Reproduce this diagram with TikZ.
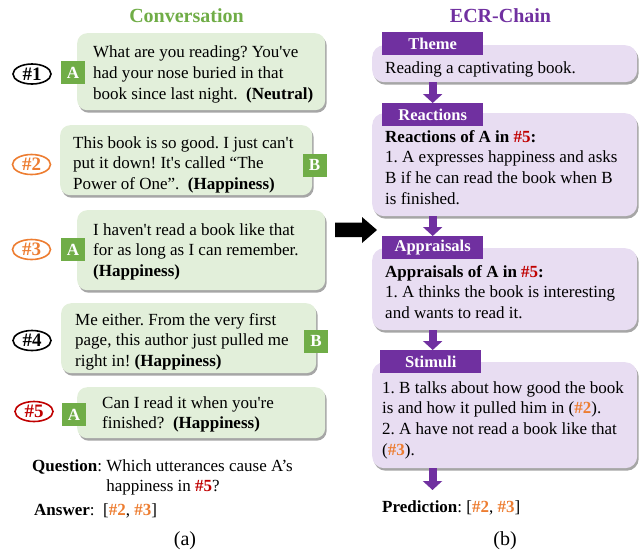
\documentclass[tikz,border=0pt]{standalone}
\usepackage{fontspec}
\setmainfont{Liberation Serif}
\usetikzlibrary{shapes.geometric,shadows,arrows.meta}
\definecolor{convgreen}{HTML}{70AD47}
\definecolor{bubblegreen}{HTML}{E2EFDA}
\definecolor{ecrpurple}{HTML}{7030A0}
\definecolor{boxpurple}{HTML}{E8DDF2}
\definecolor{hashorange}{HTML}{ED7D31}
\definecolor{hashred}{HTML}{C00000}
\newcommand{\ohash}[1]{\textcolor{hashorange}{\textbf{\##1}}}
\newcommand{\rhash}[1]{\textcolor{hashred}{\textbf{\##1}}}
\newcommand{\apos}{\textquotesingle}
\frenchspacing
\begin{document}
\begin{tikzpicture}[x=1pt,y=-1pt,
  every node/.style={inner sep=0pt},
  body/.style={font=\fontsize{17}{20.7}\selectfont},
  say/.style={body,anchor=north west,align=left},
  bubble/.style={anchor=north west,fill=bubblegreen,rounded corners=10pt,
    drop shadow={shadow xshift=1.5pt,shadow yshift=-2.5pt,opacity=.35,fill=black}},
  ecrbox/.style={anchor=north west,fill=boxpurple,rounded corners=12pt,minimum width=265pt,
    drop shadow={shadow xshift=1.5pt,shadow yshift=-2.5pt,opacity=.35,fill=black}},
  speaker/.style={fill=convgreen,text=white,font=\fontsize{17}{17}\selectfont\bfseries,
    minimum width=24pt,minimum height=23pt},
  turn/.style={ellipse,draw=#1,line width=1.6pt,text=#1,font=\fontsize{19}{19}\selectfont\bfseries,
    minimum width=38pt,minimum height=20pt},
  tab/.style={anchor=north west,fill=ecrpurple,text=white,font=\fontsize{16.5}{16.5}\selectfont\bfseries,
    minimum width=101pt,minimum height=22.5pt},
  flow/.style={ecrpurple,line width=8pt,-{Triangle[width=19pt,length=9pt]}},
  title/.style={anchor=base,font=\fontsize{20}{20}\selectfont\bfseries},
  caption/.style={anchor=base,font=\fontsize{20}{20}\selectfont}]
\useasboundingbox (0,0) rectangle (644,552);
% (a) conversation
\node[title,text=convgreen] (convtitle) at (186.5,22) {Conversation};
\node[bubble,minimum width=248pt,minimum height=77pt] (utt1) at (77,33) {};
\node[bubble,minimum width=252pt,minimum height=70pt] (utt2) at (60,125) {};
\node[bubble,minimum width=248pt,minimum height=80pt] (utt3) at (77,210) {};
\node[bubble,minimum width=255pt,minimum height=70pt] (utt4) at (61,303) {};
\node[bubble,minimum width=248pt,minimum height=51pt] (utt5) at (77,387) {};
\node[say] (txt1) at (93,43.2) {\strut What are you reading? You\apos ve\\had your nose buried in that\\book since last night.\ \ \textbf{(Neutral)}};
\node[say] (txt2) at (73,133.5) {\strut This book is so good. I just can\apos t\\put it down! It\apos s called ``The\\Power of One''.\ \ \textbf{(Happiness)}};
\node[say] (txt3) at (93,220.5) {\strut I haven\apos t read a book like that\\for as long as I can remember.\\\textbf{(Happiness)}};
\node[say] (txt4) at (75,310.5) {\strut Me either. From the very first\\page, this author just pulled me\\right in! \textbf{(Happiness)}};
\node[say] (txt5) at (102,393.5) {\strut Can I read it when you\apos re\\finished?\ \ \textbf{(Happiness)}};
\node[speaker] (spk1) at (73,72.5) {A};
\node[speaker] (spk2) at (314.5,165) {B};
\node[speaker] (spk3) at (73,249.5) {A};
\node[speaker] (spk4) at (316,341) {B};
\node[speaker] (spk5) at (74,414.5) {A};
\node[turn=black] (hash1) at (32,74) {\#1};
\node[turn=hashorange] (hash2) at (31.5,164.5) {\#2};
\node[turn=hashorange] (hash3) at (31.5,249.5) {\#3};
\node[turn=black] (hash4) at (32,340.5) {\#4};
\node[turn=hashred] (hash5) at (34,411.5) {\#5};
\node[say] (question) at (32,456.5) {\begin{tabular}{@{}l@{ }l@{}}
  \textbf{Question}: & Which utterances cause A’s\\
  & happiness in \rhash{5}?\end{tabular}};
\node[say] (answer) at (34,500.5) {\strut\textbf{Answer}:\ \ [\ohash{2}, \ohash{3}]};
\node[caption] (capa) at (185,545) {(a)};
% big arrow between the panels
\fill (335,222.5) -- (362,222.5) -- (362,217) -- (377,230) -- (362,243) -- (362,237) -- (335,237) -- cycle;
% (b) ECR-Chain
\node[title,text=ecrpurple] (ecrtitle) at (500.5,22) {ECR-Chain};
\node[ecrbox,minimum height=37pt] (themebox) at (372,45) {};
\node[ecrbox,minimum height=103pt] (reactbox) at (372,113) {};
\node[ecrbox,minimum height=82pt] (apprbox) at (372,248) {};
\node[ecrbox,minimum height=106pt] (stimbox) at (372,362) {};
\node[tab] (themetab) at (382,32) {Theme};
\node[tab] (reacttab) at (382,103) {Reactions};
\node[tab] (apprtab) at (382,236) {Appraisals};
\node[tab] (stimtab) at (380,350) {Stimuli};
\node[say] (themetxt) at (385,58.5) {\strut Reading a captivating book.};
\node[say] (reacttxt) at (385,127.5) {\strut\textbf{Reactions of A in \rhash{5}:}\\1. A expresses happiness and asks\\B if he can read the book when B\\is finished.};
\node[say] (apprtxt) at (385,262.5) {\strut\textbf{Appraisals of A in \rhash{5}:}\\1. A thinks the book is interesting\\and wants to read it.};
\node[say] (stimtxt) at (382,378.5) {\strut 1. B talks about how good the book\\is and how it pulled him in (\ohash{2}).\\2. A have not read a book like that\\(\ohash{3}).};
\node[say] (predtxt) at (382,497.5) {\strut\textbf{Prediction}: [\ohash{2}, \ohash{3}]};
\coordinate (predtip) at (432.5,490);
\draw[flow] (themebox.south -| themetab.south) -- (reacttab.north);
\draw[flow] (reactbox.south -| reacttab.south) -- (apprtab.north);
\draw[flow] (apprbox.south -| apprtab.south) -- (stimtab.north -| apprtab.south);
\draw[flow] (stimbox.south -| predtip) -- (predtip);
\node[caption] (capb) at (505,545) {(b)};
\end{tikzpicture}
\end{document}
